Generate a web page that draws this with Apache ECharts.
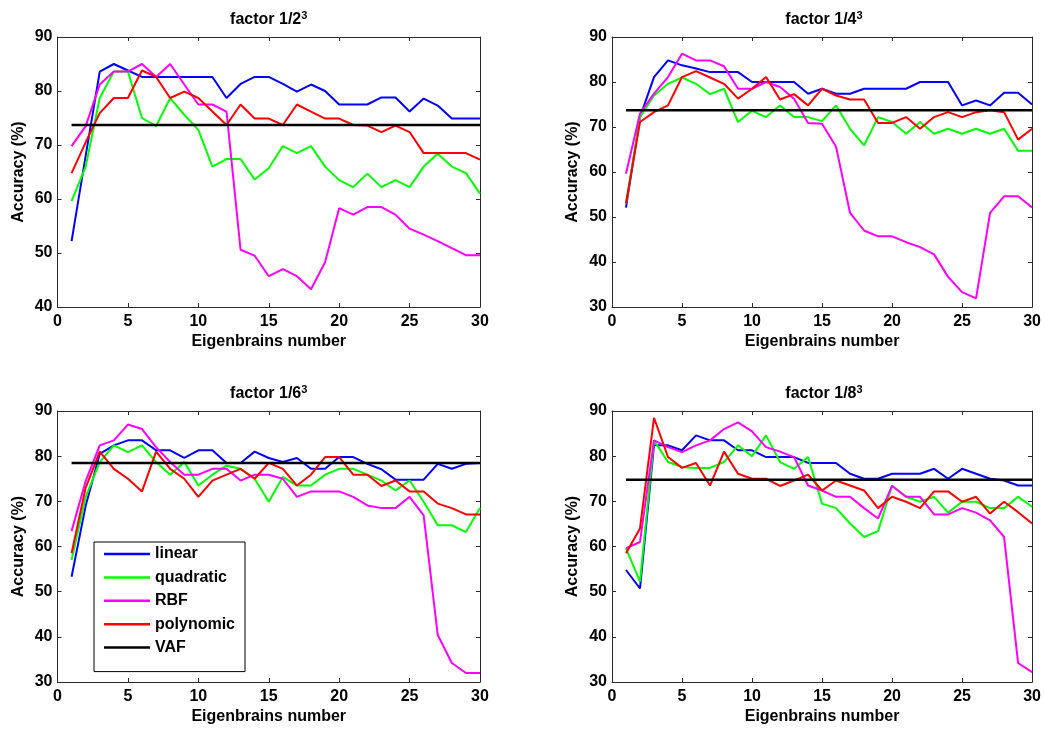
<!DOCTYPE html>
<html>
<head>
<meta charset="utf-8">
<script src="https://cdn.jsdelivr.net/npm/echarts@6/dist/echarts.min.js"></script>
<style>
html,body{margin:0;padding:0;background:#fff;}
#chart{width:1044px;height:729px;}
</style>
</head>
<body>
<div id="chart"></div>
<script>
// ---------------- data ----------------
const eigenNumbers = [1,2,3,4,5,6,7,8,9,10,11,12,13,14,15,16,17,18,19,20,21,22,23,24,25,26,27,28,29,30];
const methodNames = ['linear', 'quadratic', 'RBF', 'polynomic', 'VAF'];
const panelTitles = ['1/2', '1/4', '1/6', '1/8'];
const yTicksMin = [40, 30, 30, 30];
const yTicksMax = [90, 90, 90, 90];

// factor 1/2^3
const linearF2 = [52.2,68,83.6,85,83.8,82.6,82.6,82.6,82.6,82.6,82.6,78.7,81.3,82.6,82.6,81.3,79.9,81.2,80,77.5,77.5,77.5,78.8,78.8,76.2,78.6,77.3,74.9,74.9,74.9];
const quadF2   = [59.6,66,78.7,83.6,83.6,75,73.5,78.7,75.6,72.8,66,67.4,67.4,63.6,65.7,69.8,68.5,69.8,66,63.5,62.2,64.7,62.2,63.5,62.2,66,68.4,66,64.8,61];
const rbfF2    = [69.8,73.5,81.2,83.6,83.6,85,82.6,85,81.2,77.5,77.5,76.2,50.6,49.5,45.7,47,45.7,43.3,48.3,58.3,57.1,58.5,58.5,57.1,54.5,53.4,52.2,50.9,49.6,49.6];
const polyF2   = [64.8,70.5,75.9,78.7,78.7,83.8,82.6,78.7,79.9,78.7,76.2,73.7,77.5,74.9,74.9,73.7,77.5,76.2,74.9,74.9,73.7,73.6,72.4,73.6,72.4,68.5,68.5,68.5,68.5,67.3];
const vafF2 = 73.7;

// factor 1/4^3
const linearF4 = [52.1,72.2,81.1,84.8,83.7,83,82.2,82.2,82.2,80,80,80,80,77.4,78.5,77.4,77.4,78.5,78.5,78.5,78.5,80,80,80,74.8,75.9,74.8,77.6,77.6,75];
const quadF4   = [53,72.2,77,79.6,81,79.6,77.3,78.5,71.1,73.6,72.2,74.8,72.2,72.2,71.3,74.8,69.6,65.9,72.2,71.1,68.5,71.1,68.5,69.6,68.5,69.6,68.5,69.6,64.7,64.7];
const rbfF4    = [59.6,73,77.4,81.1,86.3,84.8,84.8,83.5,78.5,78.5,80,78.9,76.3,70.9,70.7,65.6,50.9,47,45.7,45.7,44.4,43.3,41.7,36.7,33.3,31.9,50.9,54.6,54.6,52.1];
const polyF4   = [53,71.1,73.3,74.8,81.1,82.4,81,79.6,76.3,78.5,81.1,76.1,77.3,74.8,78.5,77,76.1,76.1,70.9,70.9,72.2,69.6,72.2,73.3,72.2,73.3,73.7,73.3,67.2,69.6];
const vafF4 = 73.7;

// factor 1/6^3
const linearF6 = [53.3,69,80.5,82.4,83.5,83.5,81.3,81.3,79.6,81.3,81.3,78.5,78.5,81,79.6,78.7,79.6,77.2,77.2,79.8,79.8,78.3,77.1,74.8,74.8,74.8,78.3,77.2,78.3,78.5];
const quadF6   = [57,71,78.7,82.4,80.9,82.4,78.7,75.9,78.7,73.5,75.9,77.9,77.2,75,69.9,75.4,73.5,73.5,75.9,77.2,77.2,75.9,74.6,72.4,74.6,69.9,64.7,64.7,63.2,68.5];
const rbfF6    = [63.4,74.5,82.4,83.5,87,86,82,78.7,75.9,75.9,77.2,77.2,74.6,75.9,75.9,75,71,72.2,72.2,72.2,71,69.1,68.5,68.5,71,66.9,40.4,34.2,32,32];
const polyF6   = [58.5,73,81,77.2,75,72.2,81,77.2,75,71,74.6,75.9,77.2,75,78.5,77.2,73.5,75.9,79.8,79.8,75.9,75.9,73.4,74.6,72.2,72.2,69.5,68.5,67.1,67.1];
const vafF6 = 78.5;

// factor 1/8^3
const linearF8 = [54.8,50.7,82.4,82.4,81.3,84.6,83.5,83.5,81.3,81.3,79.8,79.8,79.8,78.5,78.5,78.5,76.1,75,75,76.1,76.1,76.1,77.2,75,77.2,76.1,75,74.6,73.5,73.5];
const quadF8   = [59.6,52.2,83.5,78.7,77.6,77.4,77.4,78.7,82.4,80,84.6,78.7,77.2,79.8,69.5,68.5,65.1,62.1,63.4,73.5,71,69.9,71,67.5,69.9,69.9,68.5,68.5,71,68.8];
const rbfF8    = [59.6,61,83.5,82,80.9,82.4,83.5,86,87.5,85.5,82,81,79.8,73.5,72.4,71,71,68.5,66.2,73.4,71,71,67.1,67.1,68.5,67.5,65.8,62.1,34.2,32.2];
const polyF8   = [58.5,64,88.5,79.8,77.4,78.5,73.5,81,76.1,75,75,73.4,74.6,75.9,72.4,74.6,73.5,72.4,68.5,71,69.9,68.5,72.2,72.2,69.9,71,67.3,69.9,67.6,65.1];
const vafF8 = 74.8;

// ---------------- styling / layout ----------------
const panels = [
  {lines: [linearF2, quadF2, rbfF2, polyF2], vaf: vafF2},
  {lines: [linearF4, quadF4, rbfF4, polyF4], vaf: vafF4},
  {lines: [linearF6, quadF6, rbfF6, polyF6], vaf: vafF6},
  {lines: [linearF8, quadF8, rbfF8, polyF8], vaf: vafF8}
];
const colors = ['#0000ff', '#00ff00', '#ff00ff', '#ff0000', '#000000'];
const FONT = '"Liberation Sans", Arial, Helvetica, sans-serif';
const grids = [
  {left: 57.5, top: 37, width: 422.5, height: 270},
  {left: 612, top: 37, width: 424, height: 270},
  {left: 57.5, top: 411, width: 422.5, height: 271},
  {left: 612, top: 411, width: 424, height: 271}
];
const frameColor = '#2a2a2a';

const xAxes = [], yAxes = [], series = [], titles = [];
grids.forEach((g, i) => {
  const base = {
    gridIndex: i, type: 'value', min: 0, max: 30, interval: 5,
    axisLine: {show: true, onZero: false, lineStyle: {color: frameColor, width: 1}},
    axisTick: {show: true, inside: true, length: 4, lineStyle: {color: frameColor}},
    splitLine: {show: false}
  };
  xAxes.push(Object.assign({}, base, {
    position: 'bottom',
    axisLabel: {show: true, color: '#000', fontSize: 16, fontWeight: 'bold', fontFamily: FONT, margin: 7},
    name: 'Eigenbrains number', nameLocation: 'middle', nameGap: 27,
    nameTextStyle: {color: '#000', fontSize: 16, fontWeight: 'bold', fontFamily: FONT}
  }));
  xAxes.push(Object.assign({}, base, {position: 'top', axisLabel: {show: false}}));
  const ybase = Object.assign({}, base, {min: yTicksMin[i], max: yTicksMax[i], interval: 10});
  yAxes.push(Object.assign({}, ybase, {
    position: 'left',
    axisLabel: {show: true, color: '#000', fontSize: 16, fontWeight: 'bold', fontFamily: FONT, margin: 5},
    name: 'Accuracy (%)', nameLocation: 'middle', nameGap: 31,
    nameTextStyle: {color: '#000', fontSize: 16, fontWeight: 'bold', fontFamily: FONT}
  }));
  yAxes.push(Object.assign({}, ybase, {position: 'right', axisLabel: {show: false}}));

  const p = panels[i];
  p.lines.forEach((vals, k) => {
    series.push({
      type: 'line', name: methodNames[k], xAxisIndex: 2 * i, yAxisIndex: 2 * i,
      data: eigenNumbers.map((x, j) => [x, vals[j]]),
      symbol: 'none', color: colors[k],
      lineStyle: {width: 2, color: colors[k]},
      animation: false
    });
  });
  series.push({
    type: 'line', name: methodNames[4], xAxisIndex: 2 * i, yAxisIndex: 2 * i,
    data: [[eigenNumbers[0], p.vaf], [eigenNumbers[eigenNumbers.length - 1], p.vaf]],
    symbol: 'none', color: colors[4],
    lineStyle: {width: 2.5, color: colors[4]},
    animation: false
  });

  titles.push({
    text: '{t|factor ' + panelTitles[i] + '}{s|3}',
    left: g.left + g.width / 2, top: g.top - 27, padding: 0,
    textAlign: 'center', textVerticalAlign: 'top',
    textStyle: {
      rich: {
        t: {fontSize: 16, fontWeight: 'bold', color: '#000', fontFamily: FONT, lineHeight: 20},
        s: {fontSize: 11, fontWeight: 'bold', color: '#000', fontFamily: FONT, lineHeight: 12, verticalAlign: 'top'}
      }
    }
  });
});

const chart = echarts.init(document.getElementById('chart'), null, {renderer: 'canvas'});
chart.setOption({
  backgroundColor: '#ffffff',
  animation: false,
  title: titles,
  grid: grids.map(g => Object.assign({containLabel: false}, g)),
  xAxis: xAxes,
  yAxis: yAxes,
  legend: {
    data: methodNames,
    orient: 'vertical',
    left: 94, top: 542,
    icon: 'rect', itemWidth: 46, itemHeight: 2.5, itemGap: 7.4,
    padding: [4, 10, 16, 10],
    borderColor: '#000', borderWidth: 1, backgroundColor: '#fff',
    textStyle: {color: '#000', fontSize: 16, fontWeight: 'bold', fontFamily: FONT, lineHeight: 16},
    selectedMode: false
  },
  series: series
});
</script>
</body>
</html>
